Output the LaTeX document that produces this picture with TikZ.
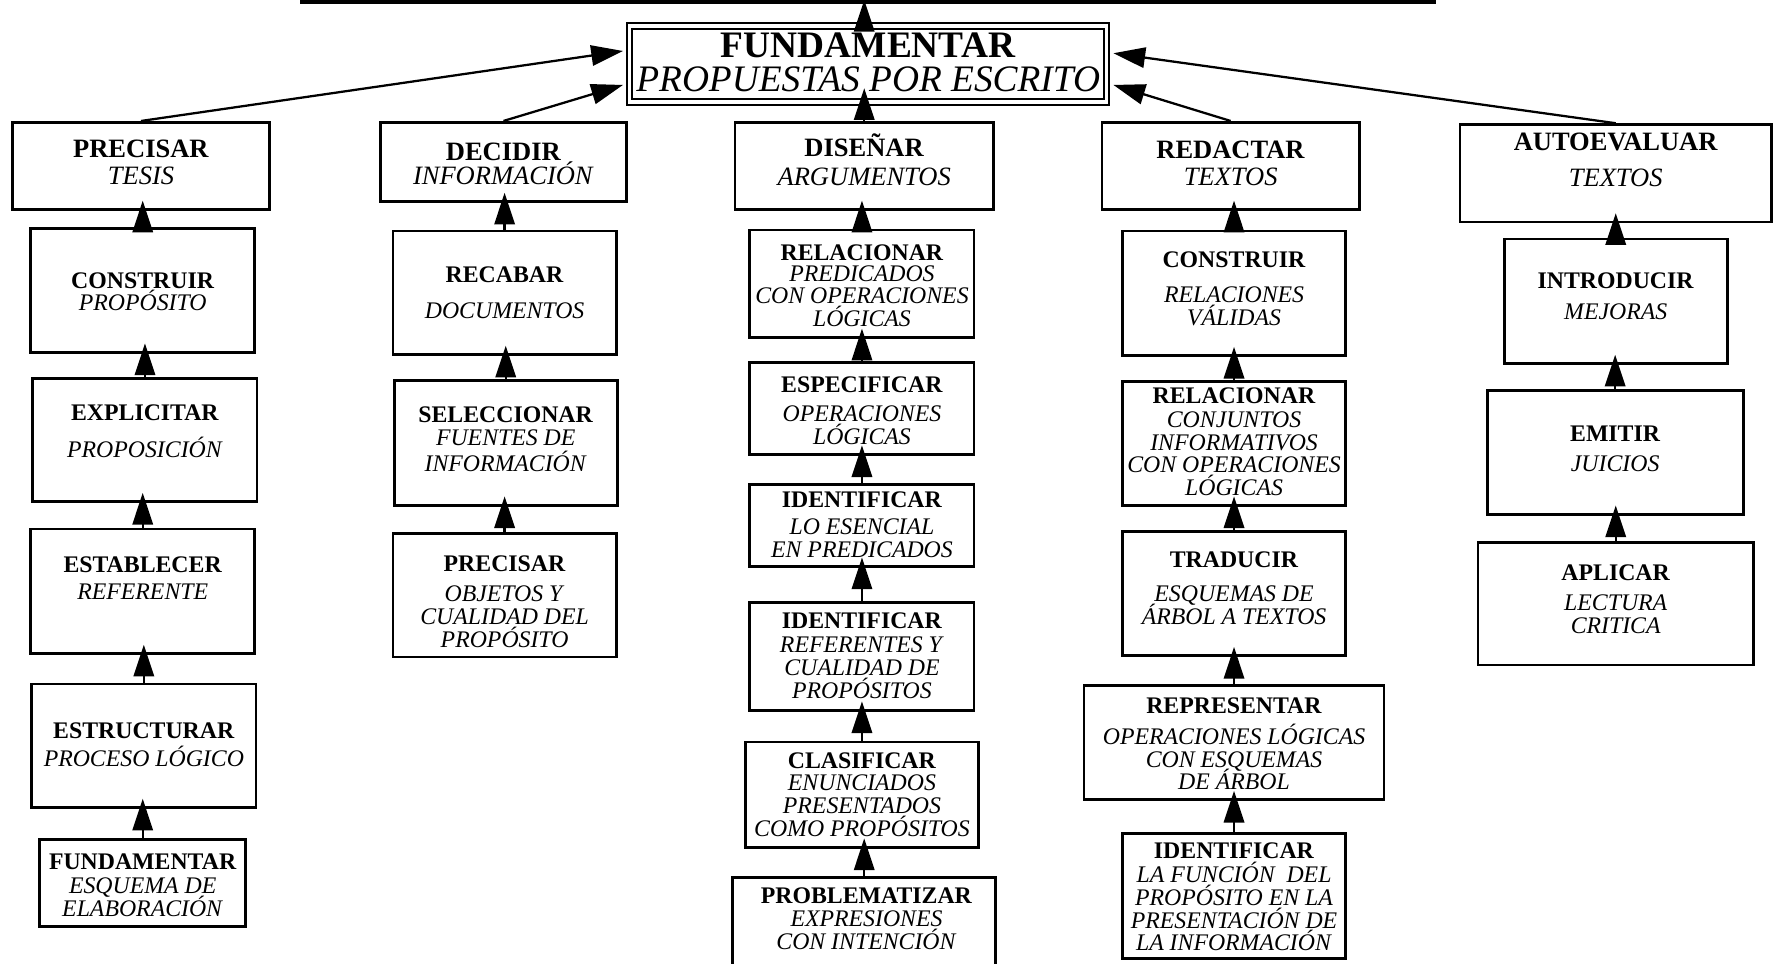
\documentclass[tikz,border=0pt]{standalone}
\usepackage{fontspec}
\setmainfont{Liberation Serif}
\usetikzlibrary{arrows.meta,fit,calc}
\newcommand\mkbox[5]{\path (#2,#3) coordinate (#1-a) (#4,#5) coordinate (#1-b); \node[box, fit=(#1-a)(#1-b)] (#1) {};}
\lineskiplimit=-20pt
\begin{document}
\begin{tikzpicture}[x=0.5pt,y=-0.5pt,
 box/.style={draw, line width=1.2pt, inner sep=0pt, rectangle},
 mainbox/.style={draw, double, double distance=1.4pt, line width=0.9pt, inner sep=0pt, rectangle},
 txt/.style={align=center, inner sep=0pt, anchor=north, font=\fontsize{10.5}{10}\selectfont},
 txtbig/.style={txt, font=\fontsize{11.7}{10}\selectfont},
 txtmain/.style={txt, font=\fontsize{16.5}{15}\selectfont},
 arr/.style={line width=1pt, -{Triangle[length=14pt,width=9pt]}},
 topline/.style={line width=2pt}]
\path[use as bounding box, fill=white] (0,0) rectangle (1568,851);

% main box
\path (556,23) coordinate (main-a) (977,90) coordinate (main-b);
\node[mainbox, fit=(main-a)(main-b)] (main) {};
\node[txtmain] (main-t) at (766.5,29) {\textbf{FUNDAMENTAR}\\\textit{PROPUESTAS POR ESCRITO}};

% top line
\coordinate (tl) at (265,1.5);
\coordinate (tr) at (1268,1.5);
\coordinate (tm) at (763,0);
\coordinate (ms) at (763,21);
\draw[topline] (tl) -- (tr);
\draw[arr] (ms) -- (tm);

% column 1
\mkbox{A1}{11}{108}{238}{185}
\mkbox{A2}{27}{202}{225}{311}
\mkbox{A3}{29}{334}{227}{443}
\mkbox{A4}{27}{467}{225}{577}
\mkbox{A5}{28}{604}{226}{713}
\mkbox{A6}{35}{741}{217}{818}
\node[txtbig] (A1-t) at (124.5,123) {\textbf{PRECISAR}\\[2pt]\textit{TESIS}};
\node[txt] (A2-t) at (126,240) {\textbf{CONSTRUIR}\\[-0.3pt]\textit{PROPÓSITO}};
\node[txt] (A3-t) at (128,357) {\textbf{EXPLICITAR}\\[6.5pt]\textit{PROPOSICIÓN}};
\node[txt] (A4-t) at (126,491) {\textbf{ESTABLECER}\\[2pt]\textit{REFERENTE}};
\node[txt] (A5-t) at (127,638) {\textbf{ESTRUCTURAR}\\[2pt]\textit{PROCESO LÓGICO}};
\node[txt] (A6-t) at (126,753) {\textbf{FUNDAMENTAR}\\[1pt]\textit{ESQUEMA DE}\\\textit{ELABORACIÓN}};

% column 2
\mkbox{B1}{336}{108}{553}{178}
\mkbox{B2}{347}{204}{544}{313}
\mkbox{B3}{348}{336}{545}{446}
\mkbox{B4}{347}{471}{544}{580}
\node[txtbig] (B1-t) at (444.5,126) {\textbf{DECIDIR}\\[0.5pt]\textit{INFORMACIÓN}};
\node[txt] (B2-t) at (445.5,235) {\textbf{RECABAR}\\[6pt]\textit{DOCUMENTOS}};
\node[txt] (B3-t) at (446.5,359) {\textbf{SELECCIONAR}\\\textit{FUENTES DE}\\[1.5pt]\textit{INFORMACIÓN}};
\node[txt] (B4-t) at (445.5,490) {\textbf{PRECISAR}\\[3.5pt]\textit{OBJETOS Y}\\\textit{CUALIDAD DEL}\\\textit{PROPÓSITO}};

% column 3
\mkbox{C1}{649}{108}{877}{185}
\mkbox{C2}{662}{203}{860}{298}
\mkbox{C3}{662}{320}{860}{401}
\mkbox{C4}{662}{428}{860}{500}
\mkbox{C5}{662}{532}{860}{627}
\mkbox{C6}{658}{655}{864}{748}
\mkbox{C7}{647}{775}{879}{856}
\node[txtbig] (C1-t) at (763,118) {\textbf{DISEÑAR}\\[2.5pt]\textit{ARGUMENTOS}};
\node[txt] (C2-t) at (761,216) {\textbf{RELACIONAR}\\[-1pt]\textit{PREDICADOS}\\\textit{CON OPERACIONES}\\\textit{LÓGICAS}};
\node[txt] (C3-t) at (761,332) {\textbf{ESPECIFICAR}\\[3pt]\textit{OPERACIONES}\\\textit{LÓGICAS}};
\node[txt] (C4-t) at (761,434) {\textbf{IDENTIFICAR}\\[2pt]\textit{LO ESENCIAL}\\\textit{EN PREDICADOS}};
\node[txt] (C5-t) at (761,541) {\textbf{IDENTIFICAR}\\[0.5pt]\textit{REFERENTES Y}\\\textit{CUALIDAD DE}\\\textit{PROPÓSITOS}};
\node[txt] (C6-t) at (761,664) {\textbf{CLASIFICAR}\\\textit{ENUNCIADOS}\\\textit{PRESENTADOS}\\\textit{COMO PROPÓSITOS}};
\node[txt] (C7-t) at (765,783) {\textbf{PROBLEMATIZAR}\\[0.5pt]\textit{EXPRESIONES}\\\textit{CON INTENCIÓN}};

% column 4
\mkbox{D1}{973}{108}{1200}{185}
\mkbox{D2}{991}{204}{1188}{314}
\mkbox{D3}{991}{337}{1188}{446}
\mkbox{D4}{991}{469}{1188}{579}
\mkbox{D5}{957}{605}{1222}{706}
\mkbox{D6}{991}{736}{1188}{846}
\node[txtbig] (D1-t) at (1086.5,124) {\textbf{REDACTAR}\\[2pt]\textit{TEXTOS}};
\node[txt] (D2-t) at (1089.5,222) {\textbf{CONSTRUIR}\\[5.5pt]\textit{RELACIONES}\\\textit{VÁLIDAS}};
\node[txt] (D3-t) at (1089.5,342) {\textbf{RELACIONAR}\\[0.5pt]\textit{CONJUNTOS}\\\textit{INFORMATIVOS}\\\textit{CON OPERACIONES}\\\textit{LÓGICAS}};
\node[txt] (D4-t) at (1089.5,487) {\textbf{TRADUCIR}\\[5pt]\textit{ESQUEMAS DE}\\\textit{ÁRBOL A TEXTOS}};
\node[txt] (D5-t) at (1089.5,616) {\textbf{REPRESENTAR}\\[3.5pt]\textit{OPERACIONES LÓGICAS}\\\textit{CON ESQUEMAS}\\\textit{DE ÁRBOL}};
\node[txt] (D6-t) at (1089.5,744) {\textbf{IDENTIFICAR}\\[0.5pt]\textit{LA FUNCIÓN~ DEL}\\\textit{PROPÓSITO EN LA}\\\textit{PRESENTACIÓN DE}\\\textit{LA INFORMACIÓN}};

% column 5
\mkbox{E1}{1289}{110}{1564}{196}
\mkbox{E2}{1328}{211}{1525}{321}
\mkbox{E3}{1313}{345}{1539}{454}
\mkbox{E4}{1305}{479}{1548}{587}
\node[txtbig] (E1-t) at (1426.5,117) {\textbf{AUTOEVALUAR}\\[6pt]\textit{TEXTOS}};
\node[txt] (E2-t) at (1426.5,240) {\textbf{INTRODUCIR}\\[4pt]\textit{MEJORAS}};
\node[txt] (E3-t) at (1426,376) {\textbf{EMITIR}\\[3pt]\textit{JUICIOS}};
\node[txt] (E4-t) at (1426.5,498) {\textbf{APLICAR}\\[3.5pt]\textit{LECTURA}\\\textit{CRITICA}};

% vertical arrows
\foreach \lo/\up in {A2/A1,A3/A2,A4/A3,A5/A4,A6/A5,B2/B1,B3/B2,B4/B3,C2/C1,C3/C2,C4/C3,C5/C4,C6/C5,C7/C6,D2/D1,D3/D2,D4/D3,D5/D4,D6/D5,E2/E1,E3/E2,E4/E3}
  \draw[arr] (\lo.north) -- ($(\lo.north |- \up.south)+(0,4.5pt)$);
\draw[arr] (C1.north) -- ($(C1.north |- main.south)+(0,6.5pt)$);

% diagonal arrows to main box
\coordinate (mL1) at (550,45);
\coordinate (mL2) at (550,75);
\coordinate (mR2) at (983,75);
\coordinate (mR1) at (983,47);
\draw[arr] (A1.north) -- (mL1);
\draw[arr] (B1.north) -- (mL2);
\draw[arr] (D1.north) -- (mR2);
\draw[arr] (E1.north) -- (mR1);
\end{tikzpicture}
\end{document}
